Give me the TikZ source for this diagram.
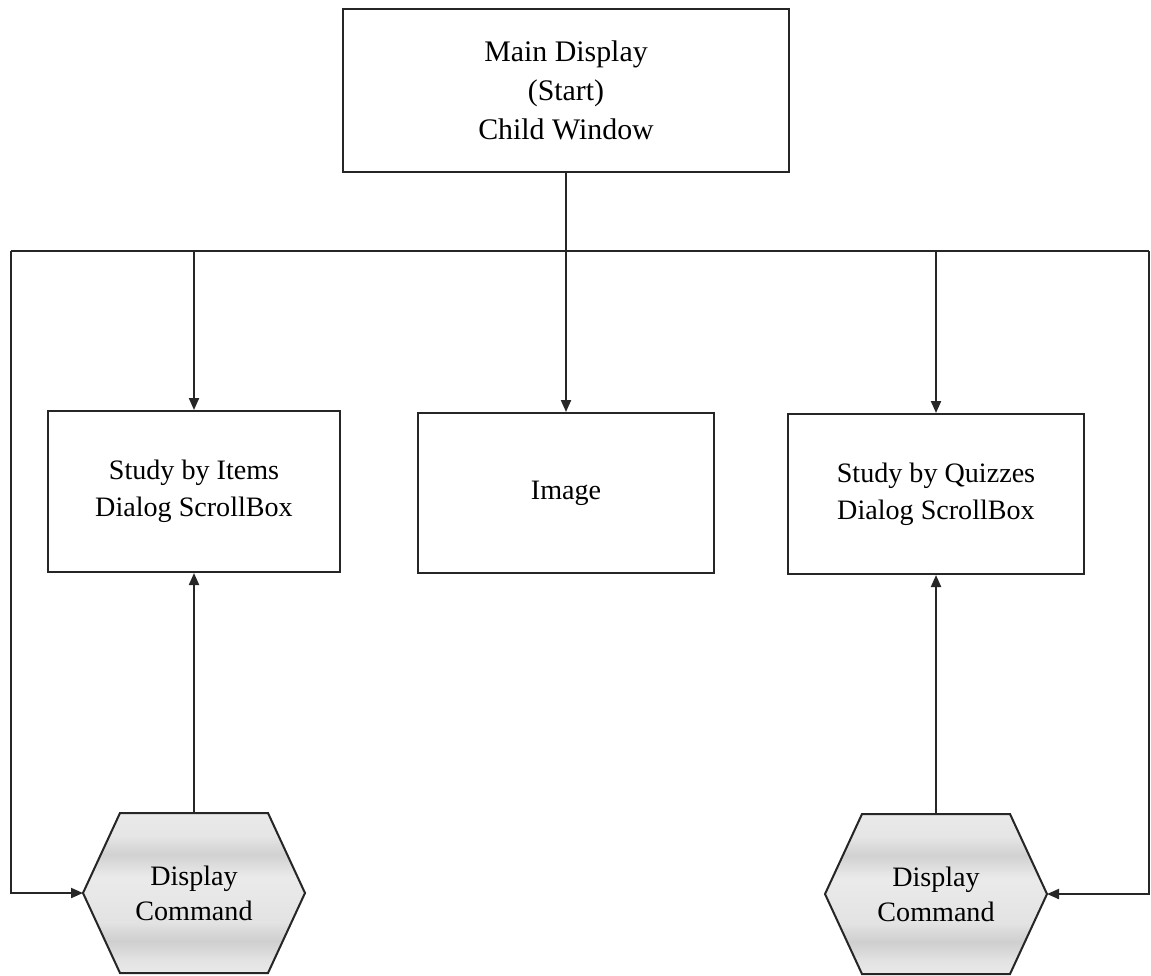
\documentclass[tikz,border=0pt]{standalone}
\usepackage{fontspec}
\setmainfont{Liberation Serif}
\usetikzlibrary{arrows.meta}

% grey fill of the command hexagons: light with two darker horizontal bands
\pgfdeclareverticalshading{hexshade}{100bp}{%
  color(0bp)=(gray!17); color(25bp)=(gray!17); color(29bp)=(gray!22);
  color(35bp)=(gray!38); color(41bp)=(gray!22); color(55bp)=(gray!16);
  color(62bp)=(gray!36); color(68bp)=(gray!20); color(75bp)=(gray!17);
  color(100bp)=(gray!17)}

\begin{document}
\begin{tikzpicture}[x=0.02cm,y=-0.02cm,
  wire/.style={line width=1.15pt, black!85},
  arr/.style={wire, -{Triangle[length=0.24cm,width=0.2cm]}},
  box/.style={draw=black!85, line width=1.15pt, rectangle, align=center,
    inner sep=0pt, font=\fontsize{16}{21}\selectfont},
  hexfill/.style={shading=hexshade, draw=black!85, line width=1.15pt},
  hexlabel/.style={align=center, inner sep=0pt, font=\fontsize{16}{20}\selectfont}]
\useasboundingbox (0,0) rectangle (1151,975);

% boxes
\node[box, minimum width=8.92cm, minimum height=3.26cm,
  font=\fontsize{17}{22}\selectfont] (main) at (566,90.5)
  {Main Display\\(Start)\\Child Window};
\node[box, minimum width=5.84cm, minimum height=3.22cm] (items) at (194,491.5)
  {Study by Items\\Dialog ScrollBox};
\node[box, minimum width=5.94cm, minimum height=3.2cm] (image) at (566,493)
  {Image};
\node[box, minimum width=5.92cm, minimum height=3.2cm] (quiz) at (936,494)
  {Study by Quizzes\\Dialog ScrollBox};

% command hexagons
\begin{scope}[shift={(194,893)}]
  \shadedraw[hexfill] (-111,0) coordinate (cmdL-w) -- (-74,-80) -- (0,-80) coordinate (cmdL-n)
    -- (74,-80) -- (111,0) coordinate (cmdL-e) -- (74,80) -- (-74,80) -- cycle;
\end{scope}
\node[hexlabel] (cmdL) at (194,893) {Display\\Command};

\begin{scope}[shift={(936,894)}]
  \shadedraw[hexfill] (-111,0) coordinate (cmdR-w) -- (-74,-80) -- (0,-80) coordinate (cmdR-n)
    -- (74,-80) -- (111,0) coordinate (cmdR-e) -- (74,80) -- (-74,80) -- cycle;
\end{scope}
\node[hexlabel] (cmdR) at (936,894) {Display\\Command};

% distribution bus
\coordinate (busL) at (11,251);
\coordinate (busR) at (1149,251);
\draw[wire] (busL) -- (busR);

% connectors
\draw[arr] (main.south) -- (image.north);
\draw[arr] (items.north |- busL) -- (items.north);
\draw[arr] (quiz.north |- busR) -- (quiz.north);
\draw[arr] (cmdL-n) -- (items.south);
\draw[arr] (cmdR-n) -- (quiz.south);
\draw[arr] (busL) -- (busL |- cmdL-w) -- (cmdL-w);
\draw[arr] (busR) -- (busR |- cmdR-e) -- (cmdR-e);
\end{tikzpicture}
\end{document}
